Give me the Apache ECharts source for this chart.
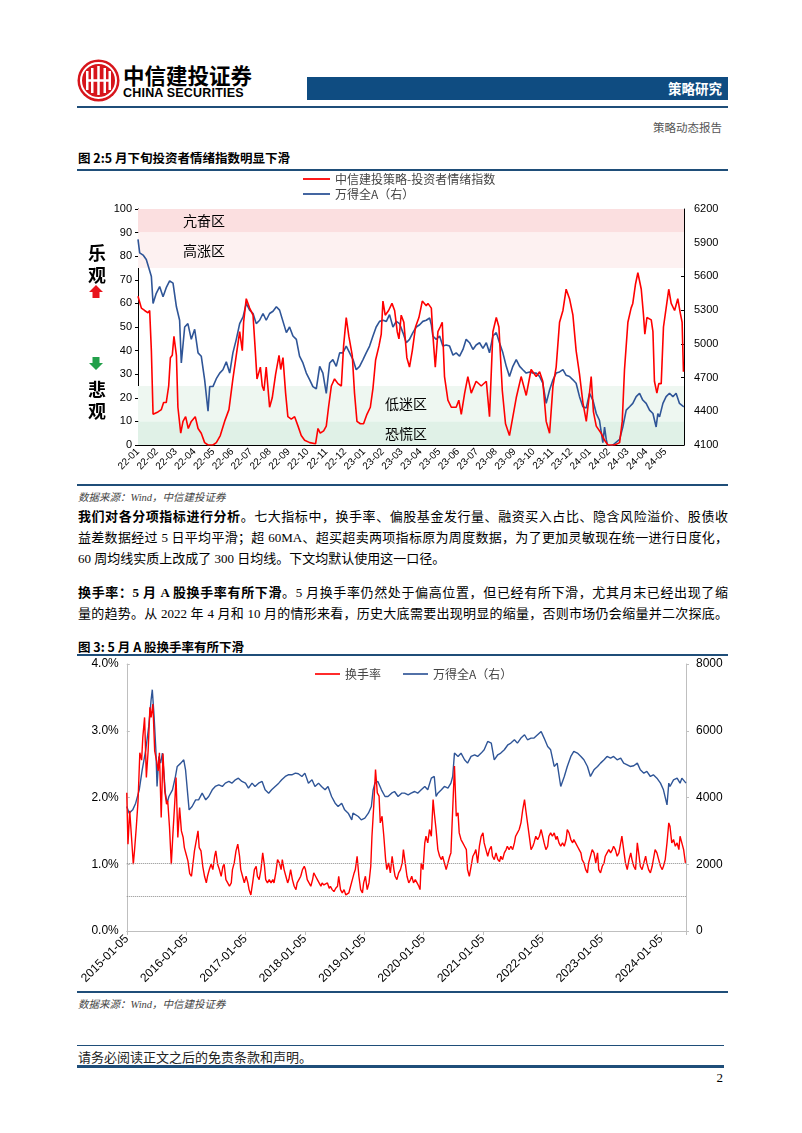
<!DOCTYPE html>
<html>
<head>
<meta charset="utf-8">
<title>策略动态报告</title>
<script src="https://cdn.jsdelivr.net/npm/echarts@6/dist/echarts.min.js"></script>
<style>
  body {margin:0;background:#fff;}
  .page {position:relative;width:802px;height:1133px;font-family:"Liberation Serif","Noto Sans CJK SC",serif;color:#000;}
  .abs {position:absolute;}
  .rule {position:absolute;left:77px;width:651px;background:#1f4e79;}
  .fig-title {position:absolute;left:78px;font:bold 12.5px "Noto Sans CJK SC",sans-serif;}
  .src {position:absolute;left:78px;font:italic 10.5px "Liberation Serif","Noto Sans CJK SC",serif;color:#444;}
  .line {position:absolute;left:78px;width:650px;font-size:13px;line-height:21px;text-align:justify;text-align-last:justify;white-space:normal;}
  .line.last {text-align-last:left;}
  .line b {font-family:"Liberation Serif","Noto Sans CJK SC",serif;font-weight:bold;}
</style>
</head>
<body>
<div class="page">
  <!-- 页眉 -->
  <svg class="abs" style="left:77px;top:59px" width="43" height="43" viewBox="0 0 43 43">
    <circle cx="21.5" cy="21.5" r="21" fill="#d7151b"/>
    <circle cx="21.5" cy="21.5" r="17.5" fill="none" stroke="#fff" stroke-width="2"/>
    <rect x="9" y="12" width="2.5" height="19" fill="#fff"/>
    <rect x="14" y="9" width="2.5" height="25" fill="#fff"/>
    <rect x="20.25" y="7" width="2.5" height="29" fill="#fff"/>
    <rect x="26.5" y="9" width="2.5" height="25" fill="#fff"/>
    <rect x="31.5" y="12" width="2.5" height="19" fill="#fff"/>
    <rect x="11" y="20.25" width="21" height="2.5" fill="#fff"/>
  </svg>
  <div class="abs" style="left:123px;top:59px;font:bold 21.5px 'Noto Sans CJK SC',sans-serif;letter-spacing:0px;">中信建投证券</div>
  <div class="abs" style="left:123px;top:86px;font:bold 12.5px 'Liberation Sans',sans-serif;letter-spacing:0.2px;">CHINA SECURITIES</div>
  <div class="abs" style="left:307px;top:77px;width:421px;height:23px;background:#0f4c81;"></div>
  <div class="abs" style="left:640px;top:79px;width:82px;text-align:right;color:#fff;font:bold 13.5px 'Noto Sans CJK SC',sans-serif;line-height:19px;">策略研究</div>
  <div class="rule" style="top:106px;height:1.5px;"></div>
  <div class="abs" style="left:600px;top:119px;width:122px;text-align:right;font-size:11.5px;color:#555;">策略动态报告</div>

  <!-- 图2 -->
  <div class="fig-title" style="top:148px;">图 2:5 月下旬投资者情绪指数明显下滑</div>
  <div class="rule" style="top:169px;height:2px;"></div>
  <div id="c1" class="abs" style="left:77px;top:172px;width:651px;height:310px;"></div>
  <div class="rule" style="top:484px;height:1.5px;"></div>
  <div class="src" style="top:489px;">数据来源：Wind，中信建投证券</div>

  <!-- 正文 -->
  <div class="line" style="top:506px;"><b>我们对各分项指标进行分析</b>。七大指标中，换手率、偏股基金发行量、融资买入占比、隐含风险溢价、股债收</div>
  <div class="line" style="top:527px;">益差数据经过 5 日平均平滑；超 60MA、超买超卖两项指标原为周度数据，为了更加灵敏现在统一进行日度化，</div>
  <div class="line last" style="top:548px;">60 周均线实质上改成了 300 日均线。下文均默认使用这一口径。</div>
  <div class="line" style="top:582px;"><b>换手率：5 月 A 股换手率有所下滑</b>。5 月换手率仍然处于偏高位置，但已经有所下滑，尤其月末已经出现了缩</div>
  <div class="line" style="top:603px;">量的趋势。从 2022 年 4 月和 10 月的情形来看，历史大底需要出现明显的缩量，否则市场仍会缩量并二次探底。</div>

  <!-- 图3 -->
  <div class="fig-title" style="top:637px;">图 3: 5 月 A 股换手率有所下滑</div>
  <div class="rule" style="top:654px;height:2px;"></div>
  <div id="c2" class="abs" style="left:77px;top:657px;width:651px;height:333px;"></div>
  <div class="rule" style="top:991px;height:1.5px;"></div>
  <div class="src" style="top:996px;">数据来源：Wind，中信建投证券</div>

  <!-- 页脚 -->
  <div class="rule" style="top:1045px;height:1px;width:647px;"></div>
  <div class="abs" style="left:78px;top:1047px;font-size:13px;color:#222;">请务必阅读正文之后的免责条款和声明。</div>
  <div class="rule" style="top:1065px;height:2.5px;width:647px;"></div>
  <div class="abs" style="left:700px;top:1070px;width:23px;text-align:right;font-size:13px;">2</div>
</div>

<script>
// 图2：月份刻度（从22-01起，每格一个月）
var monthLabels = ['22-01','22-02','22-03','22-04','22-05','22-06','22-07','22-08','22-09','22-10','22-11','22-12',
  '23-01','23-02','23-03','23-04','23-05','23-06','23-07','23-08','23-09','23-10','23-11','23-12',
  '24-01','24-02','24-03','24-04','24-05'];

// 中信建投策略-投资者情绪指数 [月份偏移, 数值]
var sentiment = [[0,63],[0.18,58],[0.35,57],[0.53,56],[0.62,57],[0.71,40],[0.8,13],[1.06,14],[1.24,15],[1.36,18],
  [1.5,18],[1.63,25],[1.72,37],[1.82,38],[1.91,46],[2.04,38],[2.12,16],[2.27,5],[2.39,10],[2.53,12],[2.67,7],
  [2.83,10],[3.04,12],[3.19,7],[3.36,5],[3.54,1],[3.72,0],[3.98,0],[4.16,1],[4.37,4],[4.6,10],[4.83,15],[5.04,28],
  [5.22,38],[5.4,48],[5.54,40],[5.61,52],[5.75,62],[5.93,58],[6.11,55],[6.23,40],[6.32,28],[6.5,33],[6.6,25],
  [6.69,23],[6.81,33],[6.99,16],[7.13,20],[7.31,30],[7.49,38],[7.58,32],[7.7,37],[7.84,22],[7.96,12],[8.14,11],
  [8.32,12],[8.5,8],[8.67,4],[8.85,2],[9.12,1],[9.43,0.5],[9.56,7],[9.68,5],[9.86,6],[10,8],[10.12,16],[10.27,25],
  [10.44,28],[10.62,26],[10.8,25],[10.92,42],[11.06,54],[11.2,46],[11.38,38],[11.5,22],[11.63,10],[11.81,9],
  [11.98,9],[12.16,13],[12.34,16],[12.48,24],[12.62,36],[12.8,42],[12.92,47],[13.01,61],[13.13,55],[13.31,57],
  [13.49,60],[13.63,57],[13.77,48],[13.86,45],[13.98,55],[14.12,52],[14.28,37],[14.42,33],[14.57,40],[14.74,50],
  [14.92,54],[15.1,61],[15.31,59],[15.4,60],[15.58,58],[15.66,47],[15.79,33],[15.93,48],[16.05,50],[16.16,52],
  [16.28,29],[16.46,19],[16.64,16],[16.9,16],[17.04,19],[17.17,13],[17.35,22],[17.52,29],[17.7,22],[17.96,27],
  [18.23,25],[18.5,27],[18.67,12],[18.85,48],[19.03,54],[19.17,50],[19.35,23],[19.52,9],[19.73,4],[20.09,20],
  [20.35,29],[20.62,21],[20.88,32],[21.15,29],[21.33,31],[21.5,27],[21.68,10],[21.86,5],[22.04,25],[22.21,33],
  [22.39,52],[22.57,57],[22.74,66],[22.92,62],[23.1,55],[23.27,40],[23.45,30],[23.63,18],[23.81,10],[23.98,22],
  [24.07,29],[24.19,14],[24.34,8],[24.6,5],[24.78,2],[24.96,0],[25.31,0],[25.58,1],[25.72,10],[25.84,32],
  [26.02,52],[26.19,58],[26.28,60],[26.42,68],[26.55,73],[26.73,66],[26.85,55],[26.92,47],[27.03,54],[27.26,53],
  [27.35,48],[27.43,27],[27.56,22],[27.66,26],[27.79,26],[27.91,50],[28.05,58],[28.19,66],[28.32,60],[28.5,57],
  [28.67,62],[28.8,56],[28.9,52],[28.97,31]];

// 万得全A（右）[月份偏移, 点位]
var windA22 = [[0,5930],[0.09,5810],[0.27,5790],[0.44,5750],[0.62,5650],[0.71,5600],[0.8,5360],[0.97,5450],
  [1.15,5510],[1.33,5420],[1.5,5500],[1.68,5560],[1.86,5540],[2.04,5330],[2.21,5210],[2.3,4830],[2.48,5150],
  [2.65,5180],[2.83,5040],[3.01,5130],[3.19,4920],[3.36,4890],[3.54,4680],[3.72,4400],[3.81,4620],[3.98,4620],
  [4.16,4690],[4.34,4740],[4.51,4770],[4.69,4840],[4.87,4740],[5.04,4920],[5.22,5040],[5.4,5180],[5.58,5240],
  [5.75,5360],[5.93,5300],[6.11,5270],[6.28,5180],[6.46,5210],[6.64,5270],[6.81,5210],[6.99,5270],[7.17,5290],
  [7.35,5330],[7.52,5300],[7.7,5200],[7.88,5100],[8.05,5150],[8.23,5070],[8.41,5040],[8.58,4890],[8.76,4830],
  [8.94,4740],[9.12,4680],[9.29,4620],[9.47,4600],[9.65,4800],[9.82,4740],[10,4560],[10.18,4830],[10.35,4860],
  [10.53,4800],[10.71,4920],[10.88,4920],[11.06,4980],[11.24,4920],[11.42,4860],[11.59,4770],[11.77,4800],
  [11.95,4860],[12.12,4920],[12.3,4980],[12.48,5070],[12.65,5150],[12.83,5200],[13.01,5210],[13.19,5200],
  [13.36,5260],[13.54,5150],[13.72,5200],[13.89,5180],[14.07,5100],[14.25,5010],[14.42,5040],[14.6,5100],
  [14.78,5150],[14.96,5170],[15.13,5200],[15.31,5210],[15.49,5230],[15.58,5170],[15.66,5070],[15.84,5040],
  [16.02,5070],[16.19,4980],[16.37,4990],[16.55,4980],[16.73,4900],[16.9,4920],[17.08,4890],[17.26,4950],
  [17.43,5040],[17.61,5010],[17.79,4950],[17.96,4990],[18.14,5010],[18.32,4960],[18.5,5010],[18.67,4920],
  [18.85,5070],[19.03,5100],[19.2,5010],[19.38,4920],[19.56,4800],[19.73,4710],[19.91,4800],[20.09,4860],
  [20.27,4800],[20.44,4770],[20.62,4740],[20.8,4750],[20.97,4740],[21.15,4740],[21.33,4710],[21.5,4650],
  [21.68,4470],[21.86,4590],[22.04,4680],[22.21,4740],[22.39,4750],[22.57,4770],[22.74,4720],[22.92,4710],
  [23.1,4680],[23.27,4650],[23.45,4530],[23.63,4440],[23.81,4430],[23.98,4560],[24.16,4500],[24.34,4380],
  [24.51,4320],[24.69,4120],[24.78,4260],[24.87,4150],[24.96,4080],[25.22,4100],[25.58,4150],[25.75,4260],
  [25.93,4410],[26.11,4440],[26.28,4470],[26.46,4530],[26.64,4560],[26.81,4500],[26.99,4470],[27.17,4410],
  [27.35,4380],[27.52,4260],[27.61,4380],[27.7,4350],[27.88,4470],[28.05,4530],[28.23,4560],[28.41,4530],
  [28.58,4560],[28.76,4470],[28.99,4440]];

// 图3：年度刻度（从2015-01-05起，每格一年）
var yearLabels = ['2015-01-05','2016-01-05','2017-01-05','2018-01-05','2019-01-05','2020-01-05',
  '2021-01-05','2022-01-05','2023-01-05','2024-01-05'];

// 换手率(%) [年份偏移, 数值]
var turnover = [[0,2.07],[0.02,1.3],[0.05,1.8],[0.08,1.4],[0.11,1.0],[0.13,1.2],[0.16,1.55],[0.19,1.95],
  [0.22,2.67],[0.25,2.56],[0.27,2.9],[0.3,3.2],[0.33,2.3],[0.36,2.7],[0.39,3.35],[0.41,3.2],[0.44,3.4],
  [0.47,2.7],[0.5,2.56],[0.53,2.4],[0.55,2.67],[0.58,1.7],[0.61,2.66],[0.64,2.1],[0.67,1.9],[0.69,1.95],
  [0.72,1.55],[0.75,1.0],[0.78,1.5],[0.81,1.95],[0.83,2.3],[0.86,1.4],[0.89,1.85],[0.92,1.5],[0.95,1.4],
  [0.97,1.25],[1.0,1.15],[1.03,1.05],[1.06,0.86],[1.09,0.82],[1.11,0.97],[1.14,1.2],[1.17,1.35],[1.2,1.5],
  [1.22,1.25],[1.25,1.2],[1.28,0.97],[1.31,0.82],[1.34,0.72],[1.36,0.82],[1.39,0.92],[1.42,1.0],[1.45,0.92],
  [1.48,1.12],[1.5,1.2],[1.53,1.0],[1.56,0.92],[1.59,0.82],[1.62,0.97],[1.64,1.0],[1.67,0.77],[1.7,0.72],
  [1.73,0.67],[1.76,0.72],[1.78,0.92],[1.81,1.02],[1.84,1.2],[1.87,1.3],[1.9,1.12],[1.92,0.92],[1.95,0.82],
  [1.98,0.72],[2.01,0.82],[2.04,0.72],[2.06,0.62],[2.09,0.54],[2.12,0.72],[2.15,0.92],[2.18,0.97],[2.2,0.82],
  [2.23,0.77],[2.26,0.92],[2.29,1.17],[2.32,0.97],[2.34,0.77],[2.37,0.72],[2.4,0.77],[2.43,0.72],[2.46,0.77],
  [2.48,0.72],[2.51,0.87],[2.54,1.07],[2.57,1.02],[2.6,0.92],[2.62,1.07],[2.65,0.92],[2.68,0.82],[2.71,0.72],
  [2.73,0.77],[2.76,0.92],[2.79,0.77],[2.82,0.67],[2.85,0.62],[2.87,0.72],[2.9,0.77],[2.93,0.82],[2.96,0.92],
  [2.99,0.97],[3.01,0.92],[3.04,0.77],[3.07,0.72],[3.1,0.67],[3.13,0.77],[3.15,0.87],[3.18,0.82],[3.21,0.77],
  [3.24,0.72],[3.27,0.67],[3.29,0.72],[3.32,0.69],[3.35,0.67],[3.38,0.72],[3.41,0.64],[3.43,0.67],[3.46,0.62],
  [3.49,0.59],[3.52,0.64],[3.55,0.67],[3.57,0.82],[3.6,0.62],[3.63,0.57],[3.66,0.62],[3.69,0.54],[3.71,0.52],
  [3.74,0.57],[3.77,0.67],[3.8,0.77],[3.83,0.87],[3.85,0.92],[3.88,1.12],[3.91,0.82],[3.94,0.62],[3.97,0.57],
  [3.99,0.72],[4.02,0.82],[4.05,0.62],[4.08,0.72],[4.11,0.97],[4.13,1.42],[4.16,1.87],[4.19,2.42],[4.22,2.07],
  [4.25,2.02],[4.27,1.62],[4.3,1.72],[4.33,1.42],[4.36,1.07],[4.38,0.92],[4.41,1.02],[4.44,0.87],[4.47,1.12],
  [4.5,0.92],[4.52,0.82],[4.55,0.77],[4.58,0.87],[4.61,0.92],[4.64,1.02],[4.66,1.22],[4.69,1.02],[4.72,0.82],
  [4.75,0.72],[4.78,0.77],[4.8,0.82],[4.83,0.72],[4.86,0.77],[4.89,0.72],[4.92,0.67],[4.94,0.62],[4.96,1.02],
  [4.99,0.92],[5.02,1.32],[5.04,1.42],[5.07,1.32],[5.1,1.52],[5.13,1.42],[5.16,1.97],[5.18,1.77],[5.21,1.52],
  [5.24,1.22],[5.27,1.12],[5.3,1.07],[5.32,1.12],[5.35,1.02],[5.38,0.92],[5.41,1.02],[5.44,1.12],[5.46,1.17],
  [5.49,1.82],[5.52,2.47],[5.55,1.72],[5.58,1.77],[5.6,1.47],[5.63,1.37],[5.66,1.32],[5.69,1.27],[5.72,1.22],
  [5.74,0.92],[5.77,0.82],[5.8,0.97],[5.83,1.12],[5.86,1.17],[5.88,1.22],[5.91,1.02],[5.94,1.27],[5.97,1.42],
  [6.0,1.47],[6.02,1.32],[6.05,1.22],[6.08,1.12],[6.11,1.22],[6.14,1.27],[6.16,1.12],[6.19,1.07],[6.22,1.17],
  [6.25,1.07],[6.28,1.04],[6.3,1.12],[6.33,1.07],[6.36,1.17],[6.39,1.22],[6.41,1.27],[6.44,1.22],[6.47,1.27],
  [6.5,1.22],[6.53,1.32],[6.55,1.42],[6.58,1.47],[6.61,1.52],[6.64,1.62],[6.67,1.82],[6.7,1.97],[6.72,1.82],
  [6.75,1.62],[6.78,1.42],[6.81,1.22],[6.84,1.27],[6.86,1.32],[6.89,1.42],[6.92,1.37],[6.95,1.42],[6.98,1.52],
  [7.0,1.44],[7.03,1.32],[7.06,1.22],[7.09,1.27],[7.11,1.42],[7.14,1.47],[7.17,1.42],[7.2,1.47],[7.23,1.37],
  [7.25,1.42],[7.28,1.32],[7.31,1.27],[7.34,1.32],[7.37,1.27],[7.4,1.37],[7.42,1.52],[7.45,1.47],[7.48,1.37],
  [7.51,1.32],[7.53,1.37],[7.56,1.32],[7.59,1.27],[7.62,1.22],[7.65,1.17],[7.67,1.07],[7.7,1.02],[7.73,0.92],
  [7.76,0.87],[7.78,1.02],[7.81,1.12],[7.84,1.22],[7.87,1.17],[7.9,1.02],[7.93,1.17],[7.95,0.92],[7.98,0.87],
  [8.01,0.97],[8.04,1.02],[8.06,1.12],[8.09,1.17],[8.12,1.22],[8.15,1.17],[8.18,1.22],[8.2,1.27],[8.23,1.22],
  [8.26,1.12],[8.29,1.17],[8.32,1.32],[8.34,1.42],[8.37,1.22],[8.4,1.02],[8.43,0.92],[8.46,1.07],[8.49,1.17],
  [8.51,1.07],[8.54,0.97],[8.57,0.92],[8.6,1.32],[8.63,1.12],[8.65,0.97],[8.68,0.92],[8.71,1.02],[8.74,1.12],
  [8.76,1.02],[8.79,0.92],[8.82,0.87],[8.85,0.97],[8.88,1.12],[8.9,1.22],[8.93,1.17],[8.96,1.07],[8.99,0.97],
  [9.02,0.92],[9.04,0.97],[9.07,1.07],[9.1,1.32],[9.13,1.62],[9.15,1.57],[9.18,1.32],[9.21,1.37],[9.24,1.27],
  [9.27,1.32],[9.3,1.22],[9.32,1.42],[9.35,1.32],[9.38,1.22],[9.41,1.02]];

// 万得全A（右）[年份偏移, 点位]
var windA15 = [[0,3730],[0.04,3530],[0.1,3630],[0.15,3830],[0.21,4230],[0.26,4830],[0.32,5430],[0.37,6130],
  [0.41,6930],[0.43,7230],[0.46,6430],[0.49,5430],[0.51,4330],[0.54,5230],[0.57,5030],[0.6,5330],[0.63,4630],
  [0.65,4130],[0.68,3830],[0.71,4030],[0.77,4230],[0.82,4630],[0.85,4930],[0.91,5030],[0.96,5130],[0.99,4830],
  [1.02,4230],[1.05,3630],[1.1,3730],[1.16,3930],[1.21,3930],[1.27,4130],[1.33,3930],[1.38,4030],[1.44,4230],
  [1.49,4330],[1.55,4380],[1.61,4330],[1.66,4430],[1.72,4480],[1.77,4430],[1.83,4530],[1.88,4580],[1.94,4480],
  [2.0,4430],[2.05,4280],[2.11,4430],[2.16,4330],[2.22,4430],[2.28,4480],[2.33,4230],[2.39,4130],[2.44,4230],
  [2.5,4330],[2.56,4430],[2.61,4530],[2.67,4630],[2.72,4680],[2.78,4680],[2.84,4730],[2.89,4710],[2.95,4630],
  [3.0,4730],[3.06,4430],[3.12,4530],[3.17,4330],[3.23,4430],[3.28,4330],[3.34,4230],[3.39,4330],[3.45,4030],
  [3.51,3830],[3.56,3730],[3.62,3830],[3.67,3630],[3.73,3530],[3.79,3330],[3.81,3530],[3.84,3480],[3.9,3430],
  [3.95,3330],[4.01,3380],[4.07,3530],[4.12,3730],[4.15,4230],[4.18,4430],[4.23,4480],[4.29,4230],[4.35,4030],
  [4.4,4030],[4.46,4130],[4.51,4180],[4.57,4030],[4.63,4130],[4.68,4130],[4.74,4080],[4.79,4130],[4.85,4180],
  [4.9,4130],[4.96,4230],[5.02,4330],[5.07,4230],[5.13,4580],[5.18,4630],[5.21,4030],[5.24,4130],[5.3,4230],
  [5.35,4330],[5.41,4280],[5.46,4430],[5.49,4630],[5.52,5330],[5.58,5230],[5.63,5330],[5.69,5130],[5.74,5030],
  [5.8,5230],[5.86,5280],[5.91,5230],[5.97,5330],[6.02,5430],[6.08,5680],[6.14,5630],[6.19,5130],[6.25,5280],
  [6.3,5330],[6.36,5430],[6.42,5580],[6.47,5630],[6.53,5730],[6.58,5630],[6.64,5780],[6.7,5880],[6.75,5730],
  [6.81,5780],[6.86,5780],[6.92,5880],[6.98,5980],[7.0,5930],[7.03,5780],[7.09,5530],[7.14,5430],[7.2,4930],
  [7.25,5030],[7.31,4330],[7.37,4630],[7.42,4930],[7.48,5230],[7.53,5380],[7.59,5330],[7.65,5230],[7.7,5130],
  [7.76,4930],[7.81,4630],[7.84,4730],[7.87,4830],[7.93,4930],[7.98,5030],[8.04,5130],[8.09,5230],[8.15,5180],
  [8.2,5230],[8.26,5130],[8.32,5180],[8.37,5030],[8.43,4980],[8.48,4930],[8.54,4950],[8.6,5030],[8.65,4830],
  [8.71,4730],[8.76,4780],[8.82,4630],[8.87,4680],[8.93,4580],[8.99,4430],[9.04,4230],[9.1,3780],[9.13,4430],
  [9.15,4330],[9.21,4530],[9.27,4580],[9.32,4430],[9.35,4580],[9.38,4530],[9.42,4430]];

var RED = '#ff0000', BLUE = '#2f5597';
var LINE_ICON = 'path://M0,0 L30,0 L30,2 L0,2 Z';

// ---------- 图2 ----------
var c1 = echarts.init(document.getElementById('c1'));
var upArrow = [[0,-7],[7,0],[3.5,0],[3.5,6],[-3.5,6],[-3.5,0],[-7,0]];
var downArrow = [[0,7],[7,0],[3.5,0],[3.5,-6],[-3.5,-6],[-3.5,0],[-7,0]];
c1.setOption({
  animation: false,
  textStyle: {fontFamily: 'Liberation Sans, Noto Sans CJK SC'},
  legend: {
    orient: 'vertical', left: 226, top: 0, itemWidth: 27, itemHeight: 2, itemGap: 1, padding: 0,
    icon: LINE_ICON,
    textStyle: {fontSize: 12, lineHeight: 14, color: '#444', fontFamily: 'Noto Sans CJK SC'},
    data: ['中信建投策略-投资者情绪指数', '万得全A（右）']
  },
  grid: {left: 61, right: 44, top: 37, bottom: 37},
  xAxis: {
    type: 'value', min: 0, max: 29, interval: 1,
    axisLine: {lineStyle: {color: '#000', width: 1}},
    axisTick: {inside: true, length: 3, lineStyle: {color: '#000'}},
    axisLabel: {rotate: 45, fontSize: 10, color: '#000', margin: 5,
      formatter: function (v) { return monthLabels[v] || ''; }},
    splitLine: {show: false}
  },
  yAxis: [{
    type: 'value', min: 0, max: 100, interval: 10,
    axisLine: {show: true, lineStyle: {color: '#000'}},
    axisTick: {show: true, length: 3, lineStyle: {color: '#000'}},
    axisLabel: {fontSize: 11, color: '#000', margin: 6},
    splitLine: {show: false}
  }, {
    type: 'value', min: 4100, max: 6200, interval: 300, position: 'right',
    axisLine: {show: true, lineStyle: {color: '#000'}},
    axisTick: {show: true, inside: true, length: 3, lineStyle: {color: '#000'}},
    axisLabel: {fontSize: 11, color: '#000', margin: 10, formatter: function (v) { return String(v); }},
    splitLine: {show: false}
  }],
  graphic: [
    {type: 'text', left: 11, top: 72, style: {text: '乐', font: 'bold 18px "Noto Sans CJK SC"', fill: '#000'}},
    {type: 'text', left: 11, top: 94, style: {text: '观', font: 'bold 18px "Noto Sans CJK SC"', fill: '#000'}},
    {type: 'polygon', x: 19, y: 120, shape: {points: upArrow}, style: {fill: '#e8141c'}},
    {type: 'polygon', x: 19, y: 191, shape: {points: downArrow}, style: {fill: '#22a04a'}},
    {type: 'text', left: 11, top: 209, style: {text: '悲', font: 'bold 18px "Noto Sans CJK SC"', fill: '#000'}},
    {type: 'text', left: 11, top: 230, style: {text: '观', font: 'bold 18px "Noto Sans CJK SC"', fill: '#000'}}
  ],
  series: [{
    name: '中信建投策略-投资者情绪指数', type: 'line', data: sentiment, symbol: 'none',
    lineStyle: {color: RED, width: 1.6}, itemStyle: {color: RED}, z: 3,
    markArea: {
      silent: true,
      label: {fontSize: 14, color: '#000', fontFamily: 'Noto Sans CJK SC'},
      data: [
        [{yAxis: 90, name: '亢奋区', itemStyle: {color: '#fbdfe0'}, label: {position: 'insideLeft', distance: 45}}, {yAxis: 100}],
        [{yAxis: 75, name: '高涨区', itemStyle: {color: '#fdf1f1'}, label: {position: 'insideLeft', distance: 45}}, {yAxis: 90}],
        [{yAxis: 10, name: '低迷区', itemStyle: {color: '#eef7f1'}, label: {position: 'inside', offset: [-5, 0]}}, {yAxis: 25}],
        [{yAxis: 0, name: '恐慌区', itemStyle: {color: '#e0f1e7'}, label: {position: 'inside', offset: [-5, 0]}}, {yAxis: 10}]
      ]
    }
  }, {
    name: '万得全A（右）', type: 'line', yAxisIndex: 1, data: windA22, symbol: 'none',
    lineStyle: {color: BLUE, width: 1.6}, itemStyle: {color: BLUE}, z: 2
  }]
});

// ---------- 图3 ----------
var c2 = echarts.init(document.getElementById('c2'));
c2.setOption({
  animation: false,
  textStyle: {fontFamily: 'Liberation Sans, Noto Sans CJK SC'},
  legend: {
    left: 238, top: 10, itemWidth: 25, itemHeight: 2, itemGap: 22, padding: 0,
    icon: LINE_ICON,
    textStyle: {fontSize: 12, lineHeight: 14, color: '#444', fontFamily: 'Noto Sans CJK SC'},
    data: ['换手率', '万得全A（右）']
  },
  grid: {left: 47, right: 42, top: 7, bottom: 59},
  xAxis: {
    type: 'value', min: 0, max: 9.42, interval: 1,
    axisLine: {lineStyle: {color: '#bfbfbf'}},
    axisTick: {length: 4, lineStyle: {color: '#bfbfbf'}},
    axisLabel: {rotate: 45, fontSize: 12, color: '#000', margin: 6,
      formatter: function (v) { return Number.isInteger(v) ? (yearLabels[v] || '') : ''; }},
    splitLine: {show: false}
  },
  yAxis: [{
    type: 'value', min: 0, max: 4, interval: 1,
    axisLine: {show: true, lineStyle: {color: '#bfbfbf'}},
    axisTick: {show: true, inside: true, length: 3, lineStyle: {color: '#bfbfbf'}},
    axisLabel: {fontSize: 12, color: '#000', margin: 8, formatter: function (v) { return v.toFixed(1) + '%'; }},
    splitLine: {show: false}
  }, {
    type: 'value', min: 0, max: 8000, interval: 2000, position: 'right',
    axisLine: {show: true, lineStyle: {color: '#bfbfbf'}},
    axisTick: {show: true, length: 3, lineStyle: {color: '#bfbfbf'}},
    axisLabel: {fontSize: 12, color: '#000', margin: 10, formatter: function (v) { return String(v); }},
    splitLine: {show: false}
  }],
  series: [{
    name: '换手率', type: 'line', data: turnover, symbol: 'none',
    lineStyle: {color: RED, width: 1.4}, itemStyle: {color: RED}, z: 3,
    markLine: {
      silent: true, symbol: 'none', label: {show: false},
      lineStyle: {type: 'dotted', color: '#8c8c8c', width: 1},
      data: [{yAxis: 1.02}, {yAxis: 0.52}]
    }
  }, {
    name: '万得全A（右）', type: 'line', yAxisIndex: 1, data: windA15, symbol: 'none',
    lineStyle: {color: BLUE, width: 1.4}, itemStyle: {color: BLUE}, z: 2
  }]
});
</script>
</body>
</html>
